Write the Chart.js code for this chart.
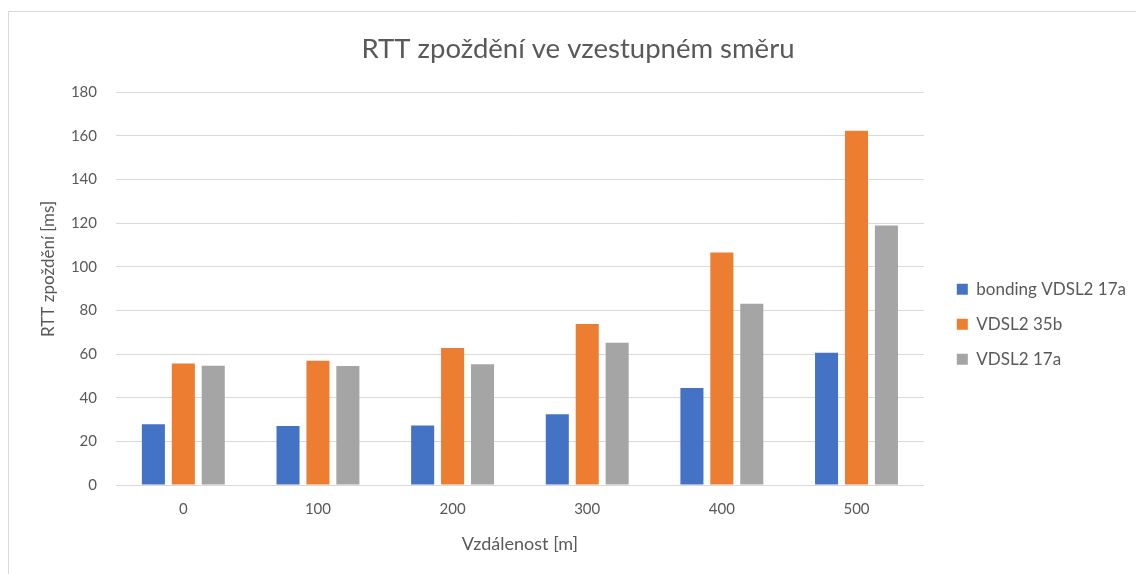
<!DOCTYPE html>
<html>
<head>
<meta charset="utf-8">
<script src="https://cdn.jsdelivr.net/npm/chart.js@4.4.0/dist/chart.umd.min.js"></script>
<style>
  html, body { margin: 0; padding: 0; background: #fff; }
  #wrap { position: relative; width: 1136px; height: 574px; }
</style>
</head>
<body>
<div id="wrap"><canvas id="myChart"></canvas></div>
<script>
var distances = ['0', '100', '200', '300', '400', '500'];
var bonding17a = [27.8, 27.0, 27.3, 32.4, 44.4, 60.6];
var vdsl35b = [55.7, 56.9, 62.8, 73.7, 106.5, 162.3];
var vdsl17a = [54.6, 54.5, 55.3, 65.1, 83.0, 118.9];
var yTicks = [0, 20, 40, 60, 80, 100, 120, 140, 160, 180];

var textColor = '#595959';
var gridColor = '#d9d9d9';

// light frame around the whole chart, like the Excel chart area
var framePlugin = {
    id: 'frame',
    beforeDraw: function (chart) {
        var c = chart.ctx;
        c.save();
        c.fillStyle = '#fff';
        c.fillRect(0, 0, chart.width, chart.height);
        c.strokeStyle = '#d9d9d9';
        c.lineWidth = 1;
        c.strokeRect(8.5, 11.5, chart.width + 20, chart.height + 20);
        c.restore();
    }
};

window.onload = function () {
    var ctx = document.getElementById('myChart').getContext('2d');
    Chart.defaults.font.family = 'Lato, "Open Sans", sans-serif';
    Chart.defaults.color = textColor;

    new Chart(ctx, {
        type: 'bar',
        data: {
            labels: distances,
            datasets: [
                { label: 'bonding VDSL2 17a', data: bonding17a, backgroundColor: '#4472c4' },
                { label: 'VDSL2 35b', data: vdsl35b, backgroundColor: '#ed7d31' },
                { label: 'VDSL2 17a', data: vdsl17a, backgroundColor: '#a5a5a5' }
            ]
        },
        options: {
            responsive: true,
            maintainAspectRatio: false,
            animation: false,
            categoryPercentage: 0.667,
            barPercentage: 0.77,
            layout: { padding: { left: 34, right: 0, top: 0, bottom: 0 } },
            plugins: {
                title: {
                    display: true,
                    text: 'RTT zpoždění ve vzestupném směru\u00a0\u00a0',
                    color: textColor,
                    font: { size: 27.5, weight: 'normal' },
                    padding: { top: 33, bottom: 26 }
                },
                legend: {
                    position: 'right',
                    maxWidth: 240,
                    title: { display: true, text: '', padding: 30 },
                    labels: {
                        boxWidth: 11,
                        boxHeight: 11,
                        padding: 18,
                        color: textColor,
                        font: { size: 17 }
                    }
                },
                tooltip: { enabled: false }
            },
            scales: {
                y: {
                    min: 0,
                    max: 180,
                    afterFit: function (scale) { scale.width = 82; },
                    afterBuildTicks: function (scale) {
                        scale.ticks = yTicks.map(function (v) { return { value: v }; });
                    },
                    ticks: { padding: 19, color: textColor, font: { size: 15 } },
                    grid: { color: gridColor, drawTicks: false },
                    border: { display: false },
                    title: {
                        display: true,
                        text: '\u00a0\u00a0\u00a0\u00a0\u00a0\u00a0\u00a0\u00a0\u00a0RTT zpoždění [ms]',
                        color: textColor,
                        font: { size: 17 },
                        padding: 4
                    }
                },
                // empty spacer between the plot and the legend
                gap: {
                    type: 'linear',
                    position: 'right',
                    afterFit: function (scale) { scale.width = 15; },
                    ticks: { display: false },
                    grid: { display: false, drawTicks: false },
                    border: { display: false }
                },
                x: {
                    afterFit: function (scale) { scale.height = 89; },
                    ticks: { padding: 15, color: textColor, font: { size: 15 } },
                    grid: { display: false, drawTicks: false },
                    border: { display: true, color: gridColor },
                    title: {
                        display: true,
                        text: 'Vzdálenost [m]',
                        color: textColor,
                        font: { size: 18 },
                        padding: 19
                    }
                }
            }
        },
        plugins: [framePlugin]
    });
};
</script>
</body>
</html>
